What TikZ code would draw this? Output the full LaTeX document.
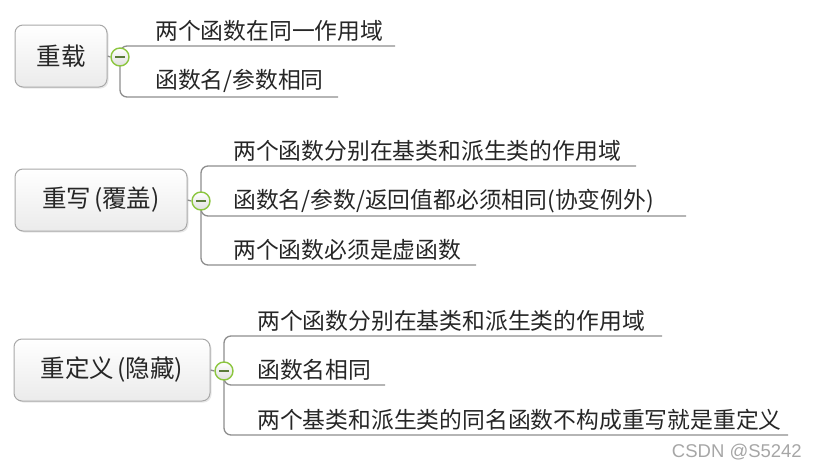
\documentclass[tikz,border=0pt]{standalone}
\usepackage{fontspec}
\newfontfamily\cjk{Noto Sans CJK SC}
\setsansfont{Liberation Sans}
\usetikzlibrary{shadows,backgrounds}
\definecolor{linegray}{HTML}{8E8E8E}
\definecolor{boxborder}{HTML}{A8A8A8}
\definecolor{ringgreen}{HTML}{8CC63F}
\definecolor{minusgreen}{HTML}{5A7A3A}
\newcommand\pspace{\hspace{3pt}}
\tikzset{
  topic/.style={draw=boxborder, line width=1pt, rounded corners=8pt,
    top color=white, bottom color=gray!16, inner sep=0pt,
    drop shadow={opacity=0.18, shadow xshift=1.5pt, shadow yshift=-1.5pt},
    font=\cjk\fontsize{24.5}{28}\selectfont, text=black!85},
  leaf/.style={anchor=west, inner sep=0pt, font=\cjk\fontsize{22.8}{26}\selectfont, text=black!85},
  branch/.style={draw=linegray, line width=1.3pt, rounded corners=7pt},
  toggle/.style={circle, draw=ringgreen, line width=1.4pt, inner sep=0pt,
    minimum size=18pt, top color=white, bottom color=gray!25},
}
\begin{document}
\begin{tikzpicture}[x=1pt,y=-1pt]
\useasboundingbox (0,0) rectangle (817,469);
% topic boxes
\node[topic, minimum width=92pt, minimum height=62pt] (t1) at (61,56) {重载};
\node[topic, minimum width=172pt, minimum height=62pt] (t2) at (101,200) {重写\pspace(覆盖)\pspace};
\node[topic, minimum width=196pt, minimum height=62pt] (t3) at (112,370) {重定义\pspace(隐藏)\pspace};
% toggle circles
\node[toggle] (c1) at (120,57) {};
\node[toggle] (c2) at (201,201) {};
\node[toggle] (c3) at (224,371) {};
% line ends
\coordinate (e1a) at (395,46);
\coordinate (e1b) at (338,97);
\coordinate (e2a) at (636,166);
\coordinate (e2b) at (686,216);
\coordinate (e2c) at (476,265);
\coordinate (e3a) at (662,336);
\coordinate (e3b) at (385,385);
\coordinate (e3c) at (788,435);
\begin{pgfonlayer}{background}
\draw[branch] (t1.east) -- (c1.west);
\draw[branch] (t2.east) -- (c2.west);
\draw[branch] (t3.east) -- (c3.west);
\draw[branch] (c1.center) |- (e1a);
\draw[branch] (c1.center) |- (e1b);
\draw[branch] (c2.center) |- (e2a);
\draw[branch] (c2.center) |- (e2b);
\draw[branch] (c2.center) |- (e2c);
\draw[branch] (c3.center) |- (e3a);
\draw[branch] (c3.center) |- (e3b);
\draw[branch] (c3.center) |- (e3c);
\end{pgfonlayer}
% minus signs
\foreach \c in {c1,c2,c3}{
  \draw[minusgreen, line width=1.6pt] ([xshift=-5pt]\c.center) -- ([xshift=5pt]\c.center);
}
% leaf texts
\node[leaf] (l1a) at (155,31) {两个函数在同一作用域};
\node[leaf] (l1b) at (155,81) {函数名/参数相同};
\node[leaf] (l2a) at (233,151) {两个函数分别在基类和派生类的作用域};
\node[leaf] (l2b) at (233,201) {函数名/参数/返回值都必须相同(协变例外)};
\node[leaf] (l2c) at (233,250) {两个函数必须是虚函数};
\node[leaf] (l3a) at (257,321) {两个函数分别在基类和派生类的作用域};
\node[leaf] (l3b) at (257,370) {函数名相同};
\node[leaf] (l3c) at (257,420) {两个基类和派生类的同名函数不构成重写就是重定义};
% watermark
\node[anchor=east, inner sep=0pt, text=gray!70, font=\sffamily\fontsize{18.5}{22}\selectfont] (wm) at (802,452) {CSDN @S5242};
\end{tikzpicture}
\end{document}
